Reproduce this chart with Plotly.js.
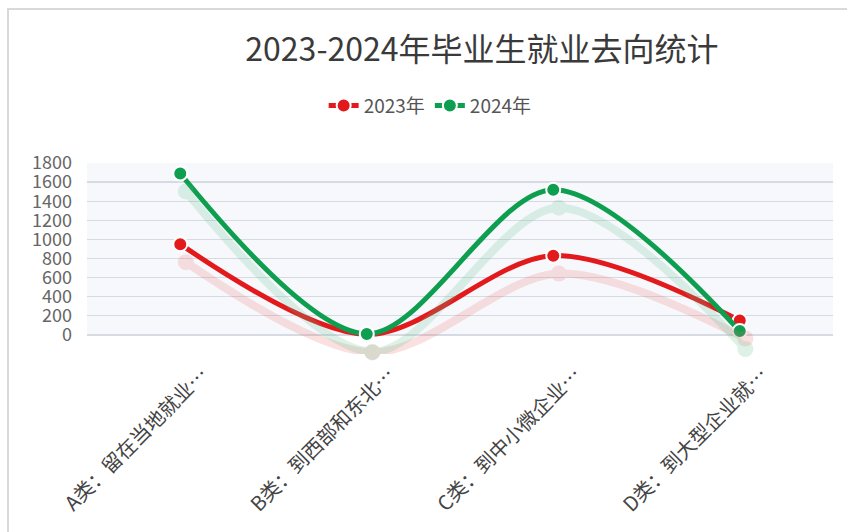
<!DOCTYPE html>
<html>
<head>
<meta charset="utf-8">
<script src="https://cdn.plot.ly/plotly-3.0.1.min.js"></script>
<style>
html,body{margin:0;padding:0;background:#fff;overflow:hidden;}
#frame{position:absolute;left:7px;top:8px;width:900px;height:600px;border-left:2px solid #d9d9d9;border-top:2px solid #d9d9d9;}
#chart{position:absolute;left:0;top:0;width:847px;height:532px;}
</style>
</head>
<body>
<div id="frame"></div>
<div id="chart"></div>
<script>
var categories = ["A类：留在当地就业…", "B类：到西部和东北…", "C类：到中小微企业…", "D类：到大型企业就…"];
var series2023 = [950, 5, 830, 150];
var series2024 = [1690, 10, 1520, 40];
var seriesNames = ["2023年", "2024年"];
var yTicks = [0, 200, 400, 600, 800, 1000, 1200, 1400, 1600, 1800];

var RED = "#e31a1c", GREEN = "#0e9e4f";
var FONT = "Noto Sans CJK SC, Noto Sans, sans-serif";

function mainTrace(name, vals, color) {
  return {
    type: "scatter", mode: "lines+markers", name: name,
    x: categories, y: vals,
    line: {color: color, width: 5, shape: "spline", smoothing: 0.9},
    marker: {color: color, size: 14, line: {color: "#ffffff", width: 2}},
    cliponaxis: false
  };
}
function shadowTrace(vals, color) {
  return {
    type: "scatter", mode: "lines+markers", showlegend: false, hoverinfo: "skip",
    x: categories, y: vals, xaxis: "x2", yaxis: "y2",
    line: {color: color, width: 8, shape: "spline", smoothing: 0.9},
    marker: {color: color, size: 16},
    opacity: 0.2, cliponaxis: false
  };
}

var data = [
  shadowTrace(series2023, "#e86a6a"),
  shadowTrace(series2024, "#5cc08a"),
  mainTrace(seriesNames[0], series2023, RED),
  mainTrace(seriesNames[1], series2024, GREEN)
];

var shiftY = 188, shiftX = 0.03;
var yMin = -200, yMax = 1800;
var layout = {
  width: 847, height: 532,
  margin: {l: 87, r: 14, t: 163, b: 178},
  paper_bgcolor: "rgba(0,0,0,0)",
  plot_bgcolor: "rgba(0,0,0,0)",
  font: {family: FONT, color: "#555"},
  title: {
    text: "2023-2024年毕业生就业去向统计",
    font: {family: FONT, size: 32, color: "#3a3a3a"},
    x: 0.569, xanchor: "center", xref: "container",
    y: 0.906, yanchor: "middle", yref: "container"
  },
  showlegend: true,
  legend: {
    orientation: "h", x: 0.46, xanchor: "center", y: 1.3, yanchor: "middle",
    font: {family: FONT, size: 19, color: "#555"},
    itemwidth: 30, tracegroupgap: 0, bgcolor: "rgba(0,0,0,0)"
  },
  shapes: [{
    type: "rect", xref: "paper", yref: "y", x0: 0, x1: 1, y0: 0, y1: yMax,
    fillcolor: "#f7f8fc", line: {width: 0}, layer: "below"
  }],
  xaxis: {
    type: "category", range: [-0.5, 3.5], showgrid: false, zeroline: false,
    showline: false, ticks: "", tickangle: -45,
    tickfont: {family: FONT, size: 20, color: "#444"},
    ticklabelshift: 22, ticklabelstandoff: 4
  },
  xaxis2: {
    type: "category", overlaying: "x", range: [-0.5 - shiftX, 3.5 - shiftX],
    visible: false
  },
  yaxis: {
    range: [yMin, yMax], tickvals: yTicks, ticktext: yTicks.map(String),
    showgrid: true, gridcolor: "#d6dae3", gridwidth: 1.3,
    zeroline: false, showline: false, ticks: "",
    tickfont: {family: FONT, size: 18, color: "#666"}, ticklabelstandoff: 14
  },
  yaxis2: {
    overlaying: "y", range: [yMin + shiftY, yMax + shiftY], visible: false
  }
};

Plotly.newPlot("chart", data, layout, {displayModeBar: false, staticPlot: true});
</script>
</body>
</html>
